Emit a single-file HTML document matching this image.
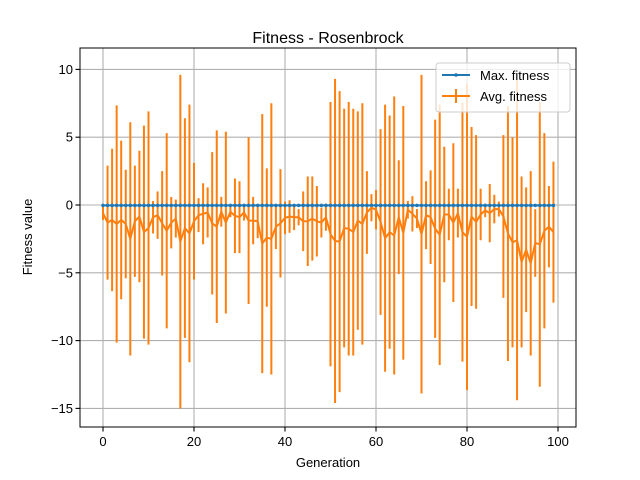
<!DOCTYPE html>
<html><head><meta charset="utf-8"><style>
body{margin:0;background:#fff;}
svg{display:block;font-family:"Liberation Sans","DejaVu Sans",sans-serif;}
</style></head><body>
<svg id="chart" width="640" height="480" viewBox="0 0 640 480" xmlns="http://www.w3.org/2000/svg">
<rect x="0" y="0" width="640" height="480" fill="#fff"/>
<g id="grid"></g>
<g id="bars"></g>
<g id="lines"></g>
<rect x="80" y="48" width="496" height="379" fill="none" stroke="#000" stroke-width="1"/>
<g id="ticks"></g>
<text x="328" y="49" text-anchor="middle" font-size="16" dy="-6">Fitness - Rosenbrock</text>
<text x="328" y="467" text-anchor="middle" font-size="13">Generation</text>
<text transform="translate(32,237) rotate(-90)" text-anchor="middle" font-size="13">Fitness value</text>
<g>
<rect x="436" y="63" width="134" height="49" rx="3" fill="#fff" fill-opacity="0.8" stroke="#ccc" stroke-width="1"/>
<g>
<line x1="442" y1="75" x2="470" y2="75" stroke="#1f77b4" stroke-width="2"/>
<circle cx="456" cy="75" r="1.8" fill="#1f77b4"/>
<text x="480" y="80" font-size="13">Max. fitness</text>
</g>
<g>
<line x1="442" y1="96" x2="470" y2="96" stroke="#ff7f0e" stroke-width="2"/>
<line x1="456" y1="89" x2="456" y2="103" stroke="#ff7f0e" stroke-width="2"/>
<text x="480" y="101" font-size="13">Avg. fitness</text>
</g>
</g>
</svg>
<script>
const generations = Array.from({length:100},(_, i)=>i);
const avgFitness = [-0.6,-1.3,-1.1,-1.4,-1.1,-1.4,-2.5,-1.2,-0.85,-2.0,
-1.7,-0.9,-0.75,-1.35,-1.9,-1.3,-1.0,-2.7,-1.7,-2.1,
-1.2,-0.75,-0.65,-0.55,-1.35,-1.6,-0.5,-1.3,-0.5,-0.8,
-0.9,-0.55,-1.15,-1.15,-1.2,-2.85,-2.4,-2.5,-1.6,-1.35,
-0.95,-0.85,-0.9,-0.9,-1.2,-1.2,-1.0,-1.2,-1.3,-0.9,
-2.15,-2.65,-2.7,-1.7,-1.75,-2.0,-1.15,-1.4,-0.55,-0.2,
-0.35,-1.25,-2.45,-2.0,-2.25,-0.9,-2.05,-0.35,-0.65,-1.0,
-2.15,-0.75,-0.9,-1.75,-2.2,-0.7,-0.7,-1.3,-0.6,-2.0,
-2.35,-0.85,-1.25,-0.7,-0.4,-0.6,-0.3,-0.3,-0.85,-2.1,
-2.75,-2.6,-4.2,-3.3,-4.3,-2.8,-2.9,-1.9,-1.6,-2.0];
const avgStd = [0.5,4.2,5.25,8.75,5.85,4.0,8.6,4.1,4.85,7.85,
8.6,1.2,1.75,3.85,7.2,1.9,1.4,12.3,8.1,9.5,
4.3,1.25,2.25,1.85,5.25,7.1,1.1,6.7,0.4,2.75,
2.65,0.6,6.15,1.75,1.25,9.55,5.1,10.0,1.65,4.0,
1.2,1.2,0.95,0.6,2.2,3.3,3.1,2.6,1.1,1.0,
9.75,11.95,11.1,8.8,9.35,9.1,8.05,8.9,3.05,1.0,
1.45,6.85,9.85,8.6,10.25,4.2,9.35,0.65,1.3,0.7,
11.75,2.5,3.45,8.05,9.6,5.0,1.9,5.85,1.8,9.55,
11.3,6.6,6.4,1.9,0.5,2.15,1.05,0.55,6.0,9.4,
7.75,11.8,6.3,4.6,6.8,2.5,10.5,7.2,3.0,5.2];
const maxFitness = Array.from({length:100},()=>-0.03);
const xTicks = [0,20,40,60,80,100];
const yTicks = [10,5,0,-5,-10,-15];

const NS="http://www.w3.org/2000/svg";
const X = v => 103 + 4.55*v;
const Y = v => 205 - 13.56*v;
function mk(tag, attrs, parent){const e=document.createElementNS(NS,tag);for(const k in attrs)e.setAttribute(k,attrs[k]);parent.appendChild(e);return e;}
const grid=document.getElementById('grid'), ticks=document.getElementById('ticks');
xTicks.forEach(t=>{
  const g=mk('line',{x1:X(t),x2:X(t),y1:48,y2:427,stroke:'#b0b0b0','stroke-width':1.1},grid);
  
  
  mk('line',{x1:X(t),x2:X(t),y1:427,y2:431.5,stroke:'#000','stroke-width':1.1},ticks);
  const l=mk('text',{x:X(t),y:446,'text-anchor':'middle','font-size':13},ticks);
  l.textContent=t;
  
  
});
yTicks.forEach(t=>{
  const g=mk('line',{x1:80,x2:576,y1:Y(t),y2:Y(t),stroke:'#b0b0b0','stroke-width':1.1},grid);
  
  
  mk('line',{x1:75.5,x2:80,y1:Y(t),y2:Y(t),stroke:'#000','stroke-width':1.1},ticks);
  const l=mk('text',{x:73,y:Y(t)+4.5,'text-anchor':'end','font-size':13},ticks);
  l.textContent=(t<0?'\u2212'+(-t):t);
  
  
});
const bars=document.getElementById('bars'), lines=document.getElementById('lines');
generations.forEach((g,i)=>{
  const b=mk('line',{x1:X(g),x2:X(g),y1:Y(avgFitness[i]+avgStd[i]),y2:Y(avgFitness[i]-avgStd[i]),stroke:'#ff7f0e','stroke-width':2},bars);
  
  
});
const mx=mk('polyline',{points:generations.map((g,i)=>X(g)+','+Y(maxFitness[i])).join(' '),fill:'none',stroke:'#1f77b4','stroke-width':2},lines);


generations.forEach((g,i)=>{
  const c=mk('circle',{cx:X(g),cy:Y(maxFitness[i]),r:1.8,fill:'#1f77b4'},lines);
  
  
});
const av=mk('polyline',{points:generations.map((g,i)=>X(g)+','+Y(avgFitness[i])).join(' '),fill:'none',stroke:'#ff7f0e','stroke-width':2,'stroke-linejoin':'round'},lines);


</script>
</body></html>
